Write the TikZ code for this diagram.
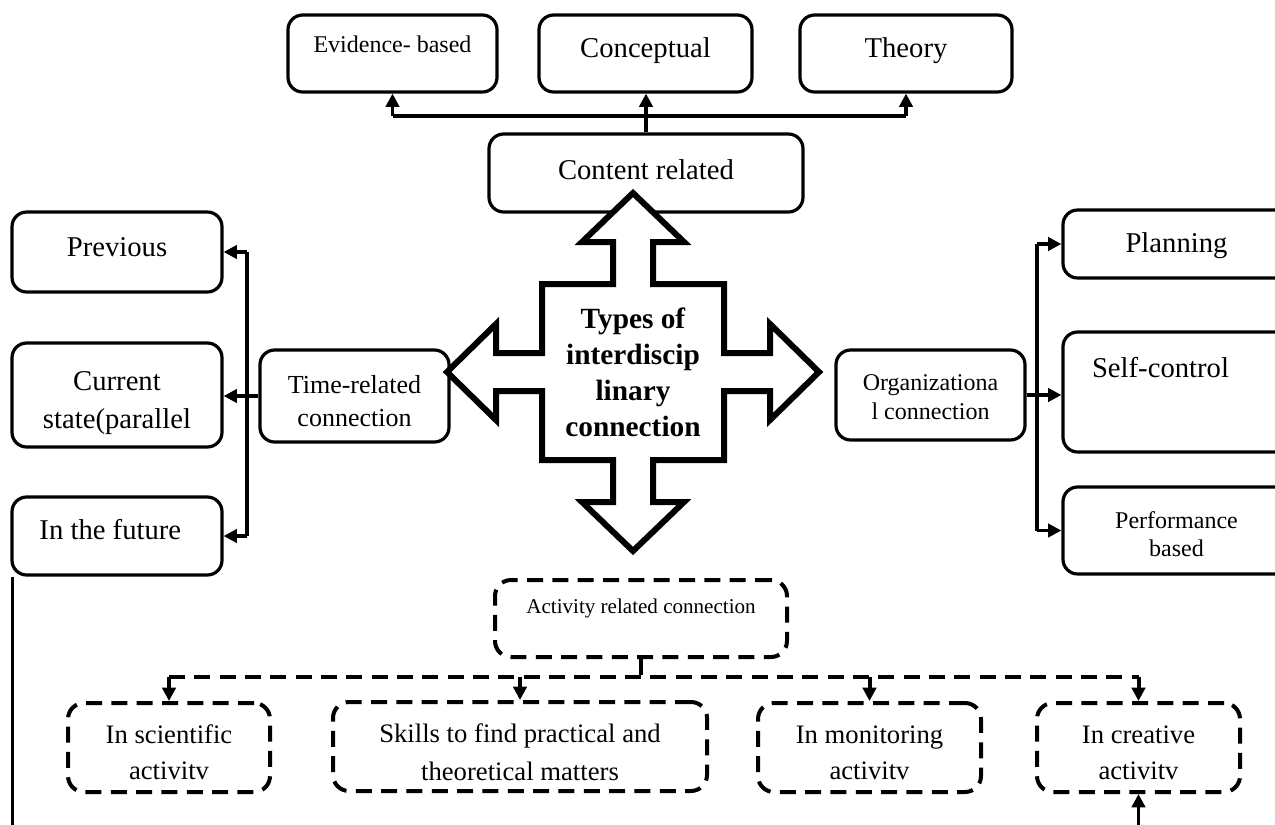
\documentclass[tikz,border=0pt]{standalone}
\usepackage{fontspec}
\setmainfont{Liberation Serif}
\usetikzlibrary{arrows.meta}

\begin{document}
\begin{tikzpicture}[x=0.75pt,y=-0.75pt,
  box/.style={draw, line width=2.4pt, rounded corners=11pt, inner sep=3pt, align=center, font=\fontsize{21.5pt}{28.5pt}\selectfont},
  dbox/.style={draw, line width=3pt, rounded corners=12pt, inner sep=3pt, dash pattern=on 12pt off 7pt, align=center, minimum height=66.75pt, font=\fontsize{20pt}{26.5pt}\selectfont},
  wire/.style={line width=2.4pt},
  arr/.style={wire, -{Triangle[length=10pt,width=10pt]}},
  dwire/.style={line width=3pt, dash pattern=on 12pt off 7pt},
  darr/.style={dwire, -{Triangle[length=10pt,width=10pt]}}]
\clip (0,0) rectangle (1275,825);

\node [box, minimum width=156.75pt, minimum height=57.75pt, font=\fontsize{18pt}{22pt}\selectfont, text height=13pt, text depth=13.9pt] (evid) at (392.5,53.5) {Evidence- based};
\node [box, minimum width=159.75pt, minimum height=57.75pt, text height=15.5pt, text depth=9.5pt] (concept) at (645.5,53.5) {Conceptual};
\node [box, minimum width=159pt, minimum height=57.75pt, text height=15.5pt, text depth=9.5pt] (theory) at (906,53.5) {Theory};
\node [box, minimum width=235.5pt, minimum height=58.5pt, text height=15.5pt, text depth=5.8pt] (content) at (646,173) {Content related};

\node [box, minimum width=157.5pt, minimum height=60pt, text height=15.5pt, text depth=8.8pt] (prev) at (117,252) {Previous};
\node [box, minimum width=157.5pt, minimum height=78pt] (curr) at (117,395) {\rule{0pt}{26pt}Current\\state(parallel};
\node [box, minimum width=157.5pt, minimum height=58.5pt, text height=15.5pt, text depth=10.3pt] (future) at (117,536) {In the future\hspace*{10pt}};
\node [box, minimum width=141.75pt, minimum height=69pt, font=\fontsize{19.5pt}{24.75pt}\selectfont] (timerel) at (354.5,396) {\rule{0pt}{20.8pt}Time-related\\connection};

\node [box, minimum width=141.75pt, minimum height=67.5pt, font=\fontsize{18pt}{21.75pt}\selectfont] (org) at (930.5,395) {\rule{0pt}{15pt}Organizationa\\l connection};
\node [box, minimum width=170.25pt, minimum height=51pt, text height=15.5pt, text depth=2.8pt] (plan) at (1176.5,244) {Planning};
\node [box, minimum width=170.25pt, minimum height=90pt, text height=15.5pt, text depth=37.3pt] (selfc) at (1176.5,392) {Self-control\hspace*{24pt}};
\node [box, minimum width=170.25pt, minimum height=65.25pt, font=\fontsize{18pt}{21pt}\selectfont] (perf) at (1176.5,530.5) {\rule{0pt}{18.3pt}Performance\\based};

\node [dbox, minimum width=219pt, minimum height=57.75pt, font=\fontsize{15.8pt}{19pt}\selectfont, text height=11.4pt, text depth=18.2pt] (activ) at (641,618.5) {Activity related connection};
\node [dbox, minimum width=151.5pt] (sci) at (169,747.5) {\rule{0pt}{21.2pt}In scientific\\activitv};
\node [dbox, minimum width=280.5pt, font=\fontsize{20pt}{29pt}\selectfont] (skills) at (520,746.5) {\rule{0pt}{22.7pt}Skills to find practical and\\theoretical matters};
\node [dbox, minimum width=167.25pt] (monit) at (869.5,747.5) {\rule{0pt}{21.2pt}In monitoring\\activitv};
\node [dbox, minimum width=152.25pt] (creat) at (1138.5,747.5) {\rule{0pt}{21.2pt}In creative\\activitv};

\coordinate (topbar) at (0,116);
\draw [wire] (evid.south |- topbar) -- (theory.south |- topbar);
\draw [arr] (evid.south |- topbar) -- (evid.south);
\draw [arr] (theory.south |- topbar) -- (theory.south);
\draw [arr] (content.north) -- (content.north |- concept.south);

\coordinate (lbar) at (247,0);
\draw [wire] (lbar |- prev.east) -- (lbar |- future.east);
\draw [arr] (lbar |- prev.east) -- (prev.east);
\draw [arr] (timerel.west) -- (timerel.west -| curr.east);
\draw [arr] (lbar |- future.east) -- (future.east);

\coordinate (rbar) at (1037,0);
\draw [wire] (rbar |- plan.west) -- (rbar |- perf.west);
\draw [arr] (rbar |- plan.west) -- (plan.west);
\draw [arr] (org.east) -- (org.east -| selfc.west);
\draw [arr] (rbar |- perf.west) -- (perf.west);

\coordinate (dbar) at (0,677);
\draw [dwire] (activ.south) -- (activ.south |- dbar);
\draw [dwire] (sci.north |- dbar) -- (creat.north |- dbar);
\draw [darr] (sci.north |- dbar) -- (sci.north);
\draw [darr] (skills.north |- dbar) -- (skills.north);
\draw [darr] (monit.north |- dbar) -- (monit.north);
\draw [darr] (creat.north |- dbar) -- (creat.north);

\coordinate (pagebot) at (0,830);
\draw [wire] ([xshift=1.5pt]future.south west) -- ([xshift=1.5pt]future.south west |- pagebot);
\draw [arr] (creat.south |- pagebot) -- (creat.south);

\draw [line width=4.5pt, line join=miter, fill=white] (633,193) -- (684,242) -- (653,242) -- (653,284) -- (724,284) -- (724,353) -- (770,353) -- (770,324) -- (819,372) -- (770,420) -- (770,391) -- (724,391) -- (724,460) -- (653,460) -- (653,502) -- (684,502) -- (633,551) -- (582,502) -- (613,502) -- (613,460) -- (542,460) -- (542,391) -- (496,391) -- (496,420) -- (447,372) -- (496,324) -- (496,353) -- (542,353) -- (542,284) -- (613,284) -- (613,242) -- (582,242) -- cycle;
\node [font=\bfseries\fontsize{22pt}{27pt}\selectfont, align=center] (types) at (633,372) {Types of\\interdiscip\\linary\\connection};
\end{tikzpicture}
\end{document}
